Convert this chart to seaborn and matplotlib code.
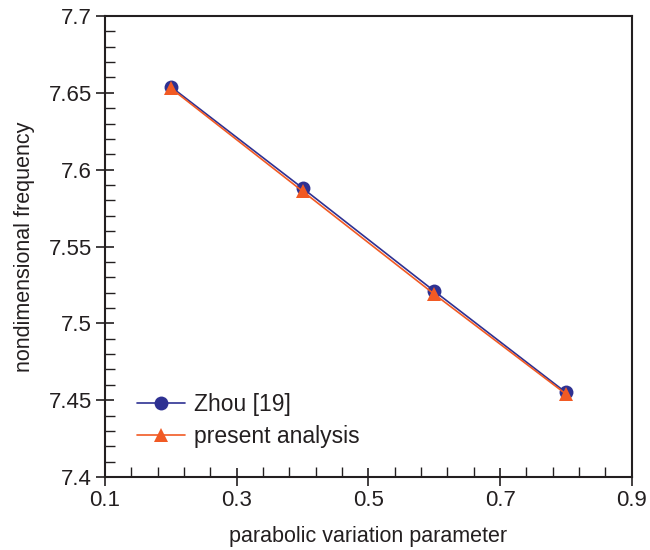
import matplotlib
matplotlib.use("Agg")
import matplotlib.pyplot as plt
from matplotlib.ticker import MultipleLocator
import seaborn as sns
import pandas as pd

sns.set_theme(style="white")
plt.rcParams["font.family"] = ["Liberation Sans", "DejaVu Sans"]

# parabolic variation parameter
param = [0.2, 0.4, 0.6, 0.8]
# nondimensional frequency
zhou = [7.654, 7.588, 7.521, 7.455]
present = [7.653, 7.586, 7.519, 7.454]

series_names = ["Zhou [19]", "present analysis"]
colors = ["#2e3192", "#f15a24"]
markers = ["o", "^"]
marker_sizes = [10, 9.5]

ink = "#231f20"

fig = plt.figure(figsize=(6.5, 5.5), dpi=100)
ax = fig.add_axes([0.1615, 0.1327, 0.8105, 0.8382])

for name, vals, c, m, ms in zip(series_names, [zhou, present], colors, markers, marker_sizes):
    d = pd.DataFrame({"param": param, "freq": vals})
    sns.lineplot(data=d, x="param", y="freq", color=c, marker=m, markersize=ms,
                 markeredgewidth=0, linewidth=1.2, label=name, ax=ax)

ax.set_xlim(0.1, 0.9)
ax.set_ylim(7.4, 7.7)
ax.xaxis.set_major_locator(MultipleLocator(0.2, offset=0.1))
ax.xaxis.set_minor_locator(MultipleLocator(0.04, offset=0.02))
ax.yaxis.set_major_locator(MultipleLocator(0.05))
ax.yaxis.set_minor_locator(MultipleLocator(0.01))
ax.yaxis.set_major_formatter(plt.FuncFormatter(lambda v, p: f"{round(v, 4):g}"))
ax.xaxis.set_major_formatter(plt.FuncFormatter(lambda v, p: f"{round(v, 4):g}"))

ax.tick_params(which="major", direction="inout", length=13, width=1.2,
               color=ink, labelsize=16, labelcolor=ink, pad=3,
               bottom=True, left=True, top=False, right=False)
ax.tick_params(which="minor", direction="in", length=7, width=1.0,
               color=ink, bottom=True, left=True, top=False, right=False)

for s in ax.spines.values():
    s.set_color(ink)
    s.set_linewidth(1.5)

ax.set_xlabel("parabolic variation parameter", fontsize=15.5, color=ink, labelpad=11)
ax.set_ylabel("nondimensional frequency", fontsize=15.5, color=ink, labelpad=10)

leg = ax.legend(loc="lower left", bbox_to_anchor=(0.043, 0.043), frameon=False,
                fontsize=16.5, handlelength=2.1, handletextpad=0.4,
                labelspacing=0.4, borderaxespad=0)
for t in leg.get_texts():
    t.set_color(ink)

fig.savefig("out.png", dpi=100)
